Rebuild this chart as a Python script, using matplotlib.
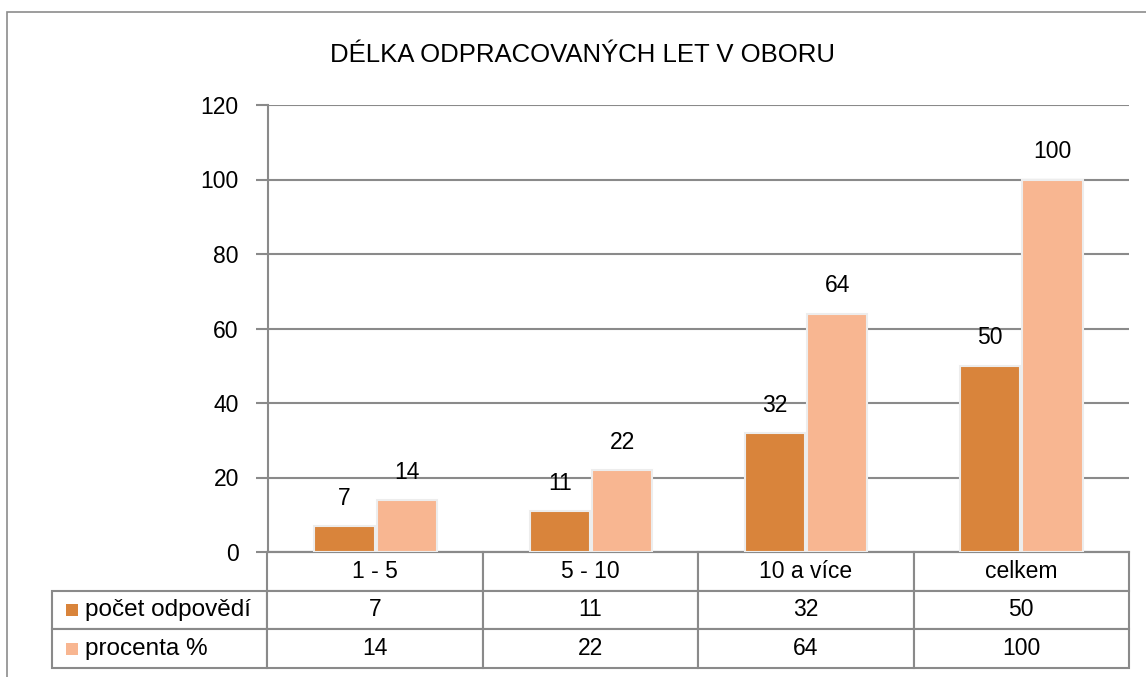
import matplotlib.pyplot as plt
from matplotlib.patches import Rectangle
import numpy as np

plt.rcParams['font.family'] = ['Liberation Sans', 'DejaVu Sans']

title = "DÉLKA ODPRACOVANÝCH LET V OBORU"
categories = ["1 - 5", "5 - 10", "10 a více", "celkem"]
series_names = ["počet odpovědí", "procenta %"]
pocet = [7, 11, 32, 50]
procenta = [14, 22, 64, 100]
colors = ["#D9843B", "#F8B691"]
yticks = [0, 20, 40, 60, 80, 100, 120]

W, H = 1146, 677
fig = plt.figure(figsize=(W / 100, H / 100), dpi=100)

# outer frame of the chart object (cut off at right and bottom)
fig.patches.append(Rectangle((7 / W, -0.1), 1.2, 1 - 12 / H + 0.1, transform=fig.transFigure,
                             fill=False, edgecolor="#8c8c8c", linewidth=1.2))

ax = fig.add_axes([268 / W, (H - 552) / H, 861 / W, 447 / H])
x = np.arange(len(categories))
bw = 0.28
off = 0.145
grey = "#8a8a8a"

for i, (vals, col) in enumerate(zip([pocet, procenta], colors)):
    pos = x + (off if i else -off)
    bars = ax.bar(pos, vals, width=bw, color=col, edgecolor="#ededed", linewidth=1.5, zorder=3)
    for b, v in zip(bars, vals):
        ax.annotate(str(v), (b.get_x() + b.get_width() / 2, v), xytext=(0, 20),
                    textcoords="offset points", ha="center", va="center", fontsize=16.5)

ax.set_xlim(-0.5, len(categories) - 0.5)
ax.set_ylim(0, 120)
ax.set_yticks(yticks)
ax.set_xticks([])
ax.yaxis.grid(True, color=grey, linewidth=1.5, zorder=0)
ax.tick_params(axis="y", length=9, width=1.5, color=grey, pad=12, labelsize=16.5)
for s in ["top", "right"]:
    ax.spines[s].set_visible(False)
for s in ["left", "bottom"]:
    ax.spines[s].set_color(grey)
    ax.spines[s].set_linewidth(1.5)

# data table under the plot (first column holds the series names)
cell_text = [[series_names[0]] + [str(v) for v in pocet],
             [series_names[1]] + [str(v) for v in procenta]]
tab = ax.table(cellText=cell_text, colLabels=[""] + categories,
               colWidths=[0.2] * 5, cellLoc="center",
               bbox=[(52 - 268) / 861, -116 / 447, (1129 - 52) / 861, 116 / 447])
tab.auto_set_font_size(False)
tab.set_fontsize(16.5)
for (r, c), cell in tab.get_celld().items():
    cell.set_edgecolor(grey)
    cell.set_linewidth(1.5)
    if c == 0:
        if r == 0:
            cell.set_visible(False)
        else:
            cell._loc = "left"
            cell.PAD = 0.152
            cell.get_text().set_horizontalalignment("left")
            cell.get_text().set_fontsize(17.5)

# legend keys in the row label cells
for k, col in enumerate(colors):
    yc = (552 - (610 + 39 * k)) / 447
    ax.add_patch(Rectangle(((66 - 268) / 861, yc - 6 / 447), 12 / 861, 12 / 447,
                           transform=ax.transAxes, facecolor=col, edgecolor="none",
                           clip_on=False, zorder=5))

fig.text(583 / W, 1 - 55 / H, title, ha="center", va="center", fontsize=18.5)

fig.savefig("out.png", dpi=100)
